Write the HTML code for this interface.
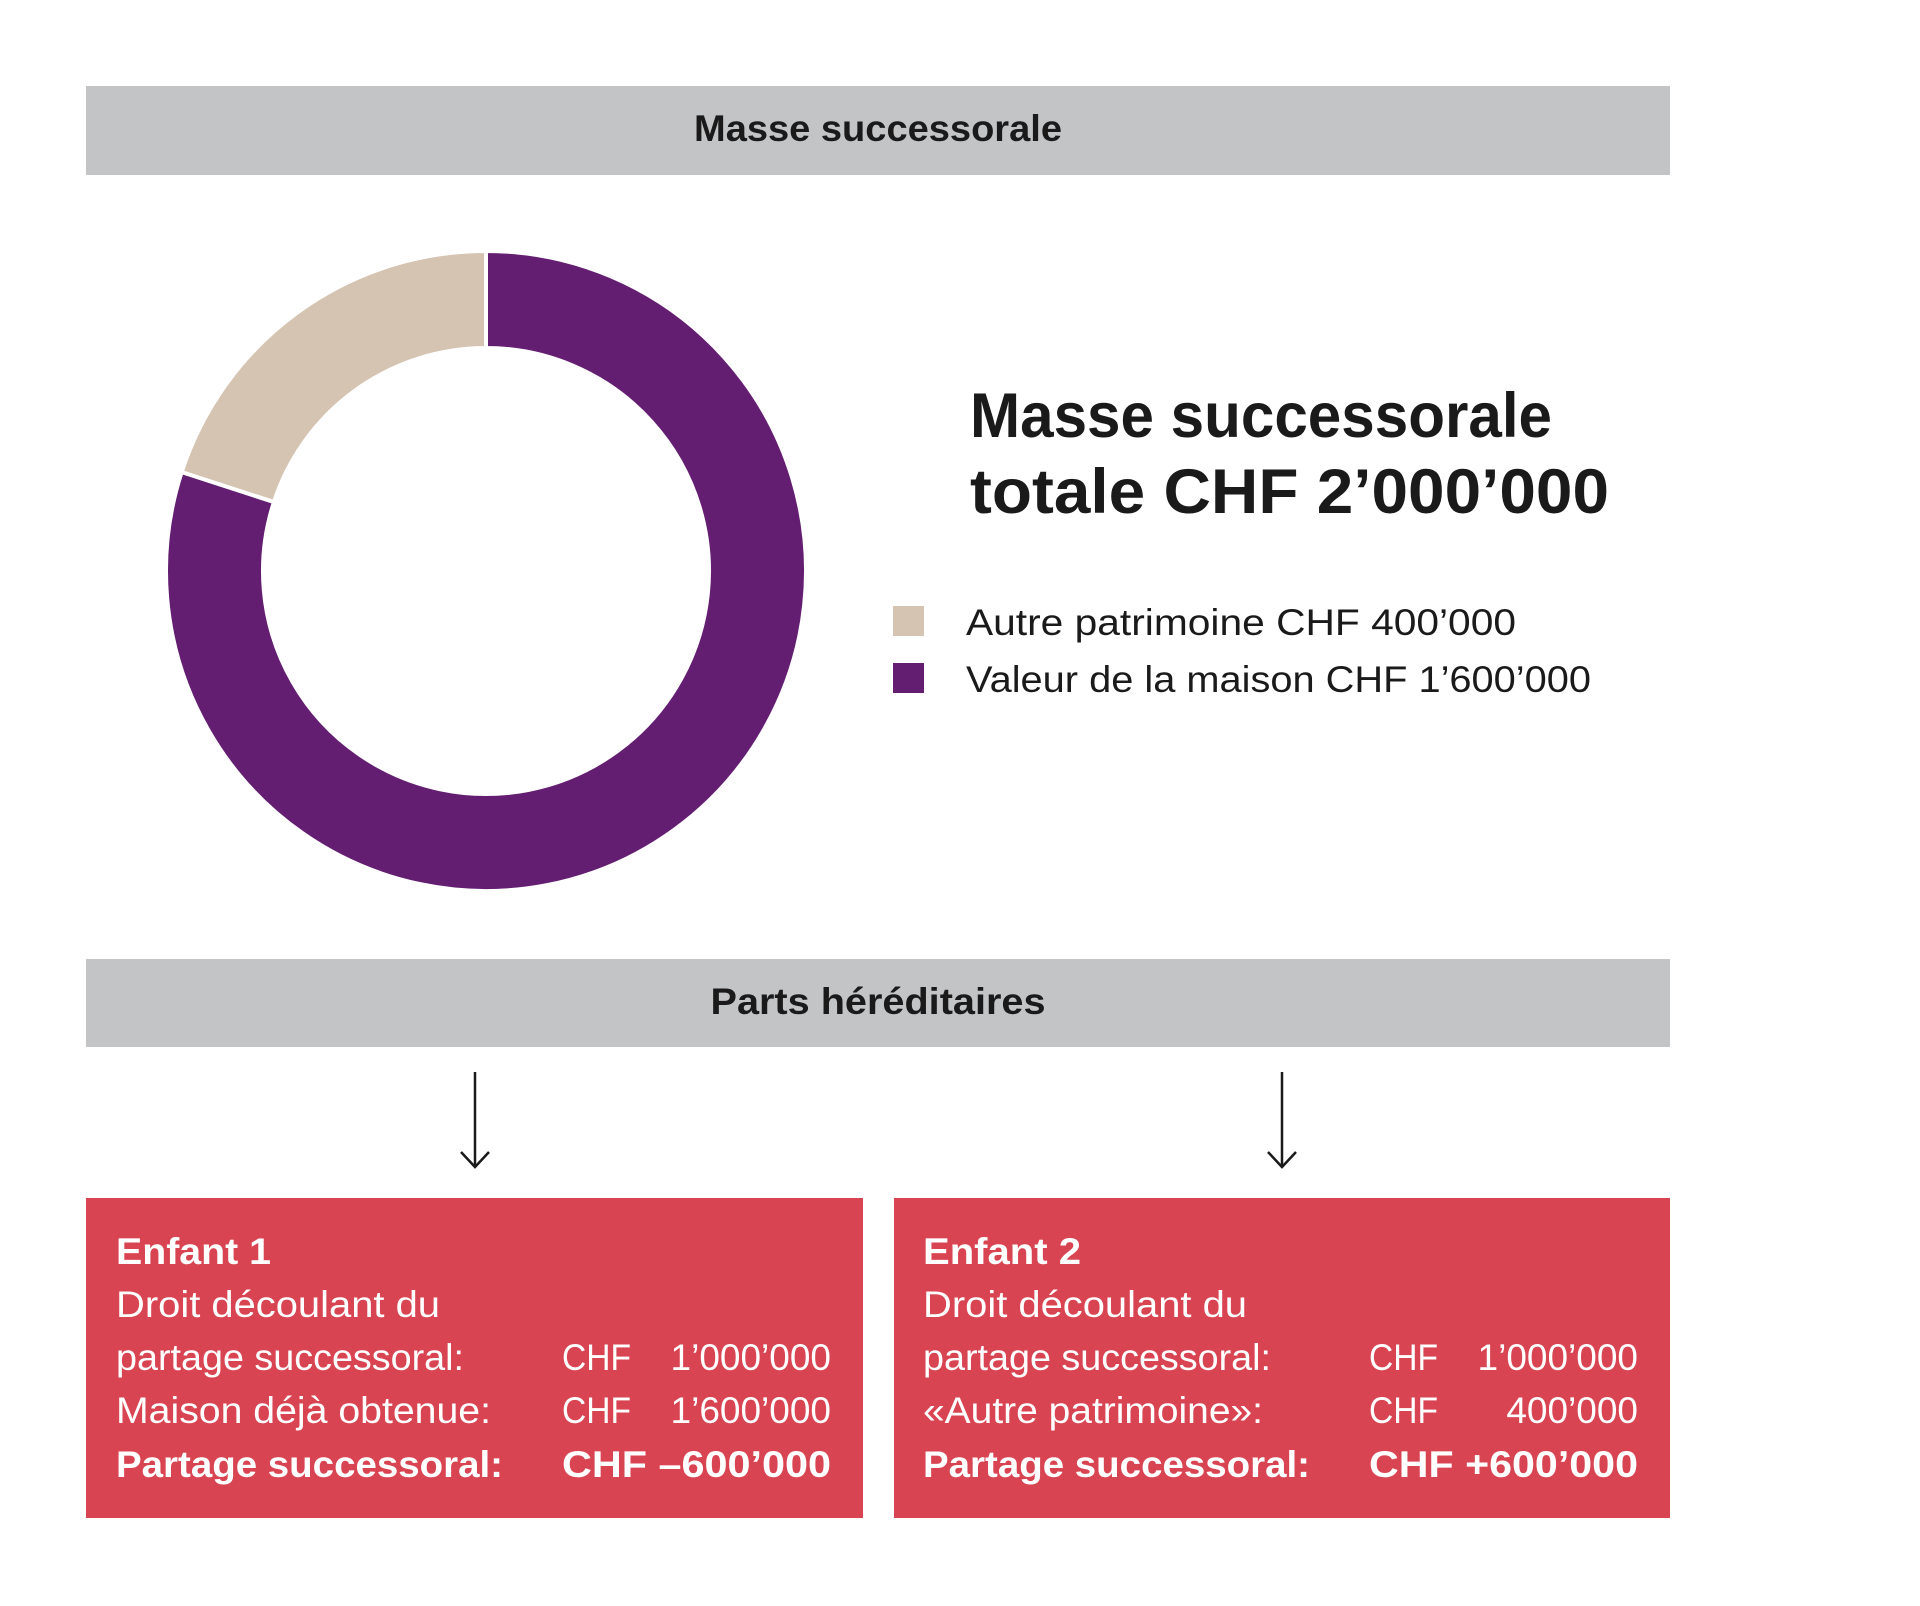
<!DOCTYPE html>
<html><head><meta charset="utf-8"><style>
html,body{margin:0;padding:0;background:#fff;}
svg{display:block;}
text{font-family:"Liberation Sans",sans-serif;}
</style></head><body>
<svg id="chart" width="1920" height="1606" viewBox="0 0 1920 1606" xmlns="http://www.w3.org/2000/svg">
<rect x="86" y="86" width="1584" height="89" fill="#c3c4c6"/>
<text x="878" y="141" text-anchor="middle" font-size="37" font-weight="bold" fill="#1a1a1a" textLength="368" lengthAdjust="spacingAndGlyphs">Masse successorale</text>
<g id="donut"></g>
<text x="970" y="437" font-size="63" font-weight="bold" fill="#1a1a1a" textLength="582" lengthAdjust="spacingAndGlyphs">Masse successorale</text>
<text x="970" y="513" font-size="63" font-weight="bold" fill="#1a1a1a" textLength="639" lengthAdjust="spacingAndGlyphs">totale CHF 2’000’000</text>
<g id="legend"></g>
<rect x="86" y="959" width="1584" height="88" fill="#c3c4c6"/>
<text x="878" y="1014" text-anchor="middle" font-size="37" font-weight="bold" fill="#1a1a1a" textLength="335" lengthAdjust="spacingAndGlyphs">Parts héréditaires</text>
<g stroke="#1a1a1a" stroke-width="2.5" fill="none">
<line x1="475" y1="1072" x2="475" y2="1166"/><polyline points="461,1152 475,1167 489,1152"/></g>
<g stroke="#1a1a1a" stroke-width="2.5" fill="none">
<line x1="1282" y1="1072" x2="1282" y2="1166"/><polyline points="1268,1152 1282,1167 1296,1152"/></g>

<g>
<rect x="86" y="1198" width="777" height="320" fill="#d94452"/>
<g fill="#fff" font-size="37">
<text x="116" y="1264" font-weight="bold" textLength="155" lengthAdjust="spacingAndGlyphs">Enfant 1</text>
<text x="116" y="1317" textLength="324" lengthAdjust="spacingAndGlyphs">Droit découlant du</text>
<text x="116" y="1370" textLength="348" lengthAdjust="spacingAndGlyphs">partage successoral:</text>
<text x="562" y="1370" textLength="69" lengthAdjust="spacingAndGlyphs">CHF</text>
<text x="831" y="1370" text-anchor="end">1’000’000</text>
<text x="116" y="1423" textLength="375" lengthAdjust="spacingAndGlyphs">Maison déjà obtenue:</text>
<text x="562" y="1423" textLength="69" lengthAdjust="spacingAndGlyphs">CHF</text>
<text x="831" y="1423" text-anchor="end">1’600’000</text>
<text x="116" y="1477" font-weight="bold" textLength="387" lengthAdjust="spacingAndGlyphs">Partage successoral:</text>
<text x="562" y="1477" font-weight="bold" textLength="269" lengthAdjust="spacingAndGlyphs">CHF –600’000</text>
</g></g>

<g>
<rect x="894" y="1198" width="776" height="320" fill="#d94452"/>
<g fill="#fff" font-size="37">
<text x="923" y="1264" font-weight="bold" textLength="158" lengthAdjust="spacingAndGlyphs">Enfant 2</text>
<text x="923" y="1317" textLength="324" lengthAdjust="spacingAndGlyphs">Droit découlant du</text>
<text x="923" y="1370" textLength="348" lengthAdjust="spacingAndGlyphs">partage successoral:</text>
<text x="1369" y="1370" textLength="69" lengthAdjust="spacingAndGlyphs">CHF</text>
<text x="1638" y="1370" text-anchor="end">1’000’000</text>
<text x="923" y="1423" textLength="340" lengthAdjust="spacingAndGlyphs">«Autre patrimoine»:</text>
<text x="1369" y="1423" textLength="69" lengthAdjust="spacingAndGlyphs">CHF</text>
<text x="1638" y="1423" text-anchor="end">400’000</text>
<text x="923" y="1477" font-weight="bold" textLength="387" lengthAdjust="spacingAndGlyphs">Partage successoral:</text>
<text x="1369" y="1477" font-weight="bold" textLength="269" lengthAdjust="spacingAndGlyphs">CHF +600’000</text>
</g></g>
</svg>
<script>
const categories = ["Autre patrimoine", "Valeur de la maison"];
const values = [400000, 1600000];
const valueLabels = ["CHF 400’000", "CHF 1’600’000"];
const colors = ["#d4c4b1", "#641e71"];

const NS = "http://www.w3.org/2000/svg";
const cx = 486, cy = 571, rOuter = 320, rInner = 223;
const total = values.reduce((a, b) => a + b, 0);
function angleOf(v) { return v / total * Math.PI * 2; }
function pt(r, a) { return [cx + r * Math.sin(a), cy - r * Math.cos(a)]; }

const donut = document.getElementById("donut");
// first slice (Autre) drawn counter-clockwise from 12 o'clock, rest clockwise
let start = -angleOf(values[0]);
for (let i = 0; i < values.length; i++) {
  const a0 = start, a1 = start + angleOf(values[i]);
  const large = (a1 - a0) > Math.PI ? 1 : 0;
  const p0 = pt(rOuter, a0), p1 = pt(rOuter, a1), q1 = pt(rInner, a1), q0 = pt(rInner, a0);
  const path = document.createElementNS(NS, "path");
  path.setAttribute("d", `M${p0[0]},${p0[1]} A${rOuter},${rOuter} 0 ${large} 1 ${p1[0]},${p1[1]} L${q1[0]},${q1[1]} A${rInner},${rInner} 0 ${large} 0 ${q0[0]},${q0[1]} Z`);
  path.setAttribute("fill", colors[i]);
  path.setAttribute("stroke", "#fff");
  path.setAttribute("stroke-width", "4");
  
  
  donut.appendChild(path);
  start = a1;
}

const legend = document.getElementById("legend");
const legendWidths = [550, 625];
for (let i = 0; i < categories.length; i++) {
  const y = 606 + i * 57;
  const sq = document.createElementNS(NS, "rect");
  sq.setAttribute("x", 893); sq.setAttribute("y", y);
  sq.setAttribute("width", 31); sq.setAttribute("height", 30);
  sq.setAttribute("fill", colors[i]);
  
  
  legend.appendChild(sq);
  const t = document.createElementNS(NS, "text");
  t.setAttribute("x", 966); t.setAttribute("y", y + 29);
  t.setAttribute("font-size", "37"); t.setAttribute("fill", "#1a1a1a");
  t.setAttribute("textLength", legendWidths[i]);
  t.setAttribute("lengthAdjust", "spacingAndGlyphs");
  t.textContent = categories[i] + " " + valueLabels[i];
  
  
  legend.appendChild(t);
}
</script>
</body></html>
